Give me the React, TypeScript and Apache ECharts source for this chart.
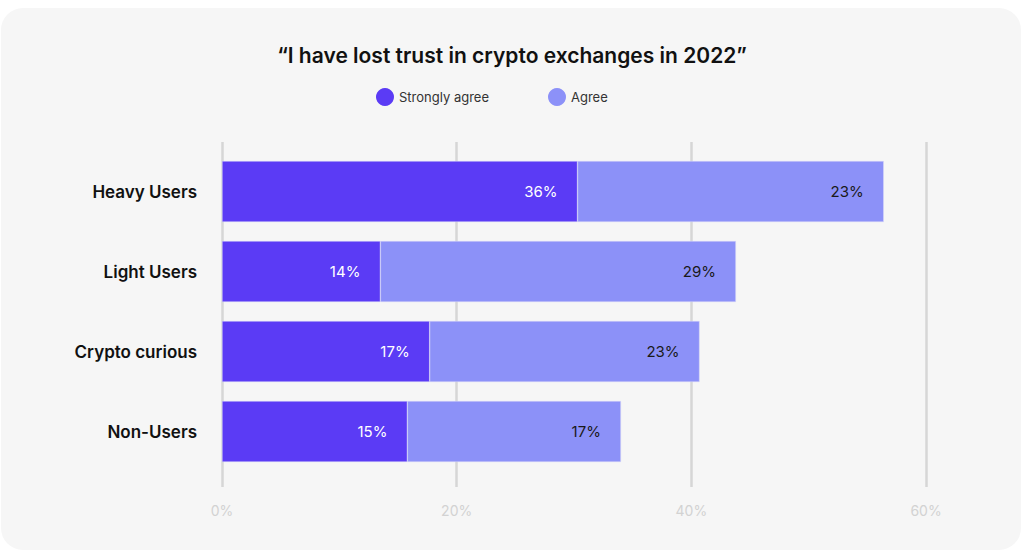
import React, { useEffect, useRef } from "react";
import * as echarts from "echarts";

const categories = ["Heavy Users", "Light Users", "Crypto curious", "Non-Users"];
const stronglyAgree = [30.3, 13.5, 17.7, 15.8];
const agree = [26.1, 30.3, 23.0, 18.2];
const stronglyAgreeLabels = ["36%", "14%", "17%", "15%"];
const agreeLabels = ["23%", "29%", "23%", "17%"];
const xTicks = [0, 20, 40, 60];

const FONT = "Inter, 'Noto Sans', sans-serif";

export default function App() {
  const ref = useRef<HTMLDivElement>(null);
  useEffect(() => {
    document.body.style.margin = "0";
    const chart = echarts.init(ref.current!, undefined, { renderer: "svg" });
    chart.setOption({
      animation: false,
      backgroundColor: "transparent",
      title: {
        text: "\u201cI have lost trust in crypto exchanges in 2022\u201d",
        left: "center",
        top: 40,
        textStyle: { fontFamily: FONT, fontSize: 21, fontWeight: 600, color: "#111" },
      },
      legend: {
        top: 83,
        left: 371,
        itemGap: 59,
        itemWidth: 18,
        itemHeight: 18,
        icon: "circle",
        itemStyle: { borderWidth: 0 },
        textStyle: { fontFamily: FONT, fontSize: 13, color: "#333" },
        data: ["Strongly agree", "Agree"],
      },
      grid: [
        { left: 222, right: 98, top: 151.5, height: 320, containLabel: false },
        { left: 222, right: 98, top: 142, height: 345, containLabel: false },
      ],
      xAxis: [
        {
          type: "value",
          gridIndex: 0,
          min: xTicks[0],
          max: xTicks[xTicks.length - 1],
          interval: 20,
          axisLabel: { show: false },
          axisLine: { show: false },
          axisTick: { show: false },
          splitLine: { show: false },
        },
        {
          type: "value",
          gridIndex: 1,
          min: xTicks[0],
          max: xTicks[xTicks.length - 1],
          interval: 20,
          axisLabel: {
            formatter: (v: number) => v + "%",
            color: "#d2d2d2",
            fontFamily: FONT,
            fontSize: 14,
            margin: 16,
          },
          axisLine: { show: false },
          axisTick: { show: false },
          splitLine: { show: true, lineStyle: { color: "#d6d6d6", width: 2.5 } },
        },
      ],
      yAxis: [
        {
          type: "category",
          gridIndex: 0,
          data: categories,
          inverse: true,
          axisLine: { show: false },
          axisTick: { show: false },
          axisLabel: {
            fontFamily: FONT,
            fontSize: 17,
            fontWeight: 600,
            color: "#111",
            margin: 25,
            padding: [0, 0, 3, 0],
          },
        },
        {
          type: "category",
          gridIndex: 1,
          data: categories,
          show: false,
        },
      ],
      series: [
        {
          name: "Strongly agree",
          type: "bar",
          stack: "total",
          xAxisIndex: 0,
          yAxisIndex: 0,
          barWidth: 61,
          data: stronglyAgree,
          itemStyle: { color: "#5b3bf5", borderColor: "#d8d8f8", borderWidth: 0.5 },
          label: {
            show: true,
            position: "insideRight",
            distance: 20,
            formatter: (p: any) => stronglyAgreeLabels[p.dataIndex],
            color: "#ffffff",
            fontFamily: FONT,
            fontSize: 15,
            padding: [3, 0, 0, 0],
          },
        },
        {
          name: "Agree",
          type: "bar",
          stack: "total",
          xAxisIndex: 0,
          yAxisIndex: 0,
          barWidth: 61,
          data: agree,
          itemStyle: { color: "#8c91f8", borderColor: "#d8d8f8", borderWidth: 0.5 },
          label: {
            show: true,
            position: "insideRight",
            distance: 20,
            formatter: (p: any) => agreeLabels[p.dataIndex],
            color: "#1a1a1a",
            fontFamily: FONT,
            fontSize: 15,
            padding: [3, 0, 0, 0],
          },
        },
      ],
    });
    return () => chart.dispose();
  }, []);
  return (
    <div style={{ position: "fixed", left: 0, top: 0, width: 1024, height: 553, background: "#ffffff" }}>
      <div
        style={{
          position: "absolute",
          left: 1,
          top: 8,
          width: 1020,
          height: 542,
          background: "#f6f6f6",
          borderRadius: 22,
        }}
      />
      <div ref={ref} style={{ position: "absolute", left: 0, top: 0, width: 1024, height: 553 }} />
    </div>
  );
}
